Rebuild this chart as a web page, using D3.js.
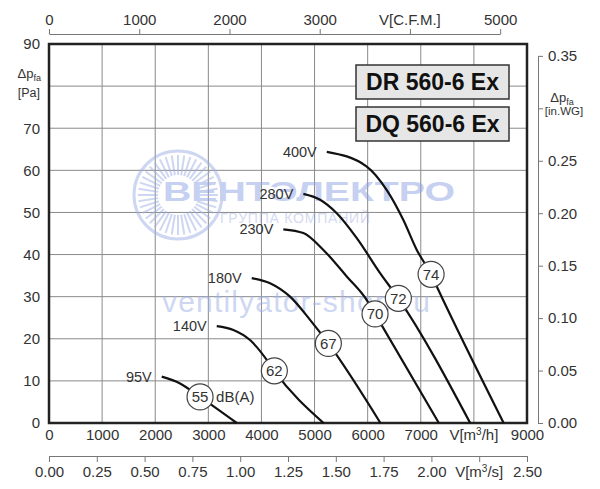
<!DOCTYPE html>
<html>
<head>
<meta charset="utf-8">
<script src="https://cdn.jsdelivr.net/npm/d3@7"></script>
<style>
  body { margin: 0; background: #fff; }
  text { font-family: "Liberation Sans", Arial, sans-serif; fill: #333; }
</style>
</head>
<body>
<svg id="chart" width="600" height="489"></svg>
<script>
// --- données ---
const flowTicks = [0, 1000, 2000, 3000, 4000, 5000, 6000, 7000, 8000, 9000];
const pressureTicks = [0, 10, 20, 30, 40, 50, 60, 70, 80, 90];
const cfmTicks = [0, 1000, 2000, 3000, 4000, 5000];
const m3sTicks = [0, 0.25, 0.5, 0.75, 1, 1.25, 1.5, 1.75, 2, 2.25, 2.5];
const inwgTicks = [0, 0.05, 0.1, 0.15, 0.2, 0.25, 0.3, 0.35];

const voltages = ["95V", "140V", "180V", "230V", "280V", "400V"];
const curve95 = [[2122, 11.0], [2467, 9.4], [2844, 6.2], [3535, 0]];
const curve140 = [[3158, 23.0], [3471, 22.1], [3785, 19.7], [4100, 15.0], [4243, 12.4], [5170, 0]];
const curve180 = [[3817, 34.4], [4162, 33.2], [4539, 30.0], [4915, 24.5], [5260, 18.9], [6240, 0]];
const curve230 = [[4412, 46.0], [4789, 45.1], [5166, 41.1], [5606, 34.8], [5983, 29.2], [6139, 25.9], [7340, 0]];
const curve280 = [[4789, 54.4], [5104, 53.0], [5418, 49.8], [5795, 43.9], [6234, 35.6], [6578, 29.6], [7930, 0]];
const curve400 = [[5230, 64.4], [5983, 60.9], [6360, 55.3], [6672, 48.2], [6925, 41.1], [7194, 35.3], [7301, 32.4], [8560, 0]];
const curves = [curve95, curve140, curve180, curve230, curve280, curve400];

const soundLevels = [55, 62, 67, 70, 72, 74];
const soundPoints = [[2844, 6.2], [4243, 12.4], [5260, 18.9], [6139, 25.9], [6578, 29.6], [7194, 35.3]];

const models = ["DR 560-6 Ex", "DQ 560-6 Ex"];

const CFM_TO_M3H = 1.699;
const INWG_TO_PA = 249.09;

const svg = d3.select("#chart");

const x = d3.scaleLinear().domain([0, 9000]).range([49, 527]);
const y = d3.scaleLinear().domain([0, 90]).range([423, 44]);

// grille
const grid = svg.append("g").attr("stroke", "#8a8a8a").attr("stroke-width", 1);
grid.selectAll(".vx").data(flowTicks.slice(1, -1)).enter().append("line")
    .attr("x1", d => x(d)).attr("x2", d => x(d))
    .attr("y1", y(90)).attr("y2", y(0));
grid.selectAll(".hy").data(pressureTicks.slice(1, -1)).enter().append("line")
    .attr("x1", x(0)).attr("x2", x(9000))
    .attr("y1", d => y(d)).attr("y2", d => y(d));

// filigrane
const wm = svg.append("g").attr("opacity", 0.5);
const logo = wm.append("g").attr("transform", "translate(178,195)");
logo.append("circle").attr("r", 44).attr("fill", "none").attr("stroke", "#9fb0e6").attr("stroke-width", 3);
logo.selectAll("line").data(d3.range(40)).enter().append("line")
    .attr("x1", d => 20 * Math.cos(d * Math.PI / 20)).attr("y1", d => 20 * Math.sin(d * Math.PI / 20))
    .attr("x2", d => 40 * Math.cos(d * Math.PI / 20)).attr("y2", d => 40 * Math.sin(d * Math.PI / 20))
    .attr("stroke", "#9fb0e6").attr("stroke-width", 2);
wm.append("text").attr("x", 163).attr("y", 201).attr("textLength", 292)
    .attr("lengthAdjust", "spacingAndGlyphs")
    .style("font-size", "28px").style("font-weight", "bold").style("fill", "#8ea2e4")
    .text("ВЕНТЭЛЕКТРО");
wm.append("text").attr("x", 220).attr("y", 223).attr("textLength", 150)
    .style("font-size", "14px").style("fill", "#a9b6e6")
    .text("ГРУППА КОМПАНИЙ");
wm.append("text").attr("x", 162).attr("y", 312).attr("textLength", 268)
    .style("font-size", "30px").style("fill", "#9fb0e6")
    .text("ventilyator-shop.ru");

// cadre
svg.append("rect")
    .attr("x", x(0)).attr("y", y(90))
    .attr("width", x(9000) - x(0)).attr("height", y(0) - y(90))
    .attr("fill", "none").attr("stroke", "#222").attr("stroke-width", 2.5);

// légendes des modèles
const mg = svg.append("g").selectAll("g").data(models).enter().append("g")
    .attr("transform", (d, i) => `translate(356,${65 + i * 42})`);
mg.append("rect").attr("width", 153).attr("height", 34)
    .attr("fill", "#e6e6e6").attr("stroke", "#333").attr("stroke-width", 1.5);
mg.append("text").attr("x", 76.5).attr("y", 25).attr("text-anchor", "middle")
    .style("font-size", "23px").style("font-weight", "bold").style("fill", "#111")
    .text(d => d);

// courbes
const line = d3.line().x(d => x(d[0])).y(d => y(d[1])).curve(d3.curveMonotoneX);
svg.append("g").selectAll("path").data(curves).enter().append("path")
    .attr("d", line).attr("fill", "none").attr("stroke", "#111").attr("stroke-width", 2.2);

svg.append("g").selectAll("text").data(curves).enter().append("text")
    .attr("x", d => x(d[0][0]) - 10).attr("y", d => y(d[0][1]) + 5)
    .attr("text-anchor", "end").style("font-size", "14.5px")
    .text((d, i) => voltages[i]);

// niveaux sonores
const sg = svg.append("g").selectAll("g").data(soundPoints).enter().append("g")
    .attr("transform", d => `translate(${x(d[0])},${y(d[1])})`);
sg.append("circle").attr("r", 13).attr("fill", "#fff").attr("stroke", "#444").attr("stroke-width", 1.2);
sg.append("text").attr("text-anchor", "middle").attr("y", 5.5).style("font-size", "15px")
    .text((d, i) => soundLevels[i]);
svg.append("text").attr("x", x(soundPoints[0][0]) + 16).attr("y", y(soundPoints[0][1]) + 5.5)
    .style("font-size", "15px").text("dB(A)");

// axes
function styleAxis(g, color) {
    g.attr("font-family", null).attr("font-size", null);
    g.selectAll("text").style("font-size", "15px");
    g.selectAll("line").attr("stroke", color);
    g.select(".domain").attr("stroke", color);
}

const xAxis = svg.append("g").attr("transform", `translate(0,${y(0)})`)
    .call(d3.axisBottom(x).tickValues(flowTicks).tickSize(0).tickPadding(6)
        .tickFormat(d => d === 8000 ? "" : d));
xAxis.select(".domain").remove();
styleAxis(xAxis, "#777");
svg.append("text").attr("x", x(8000)).attr("y", 440).attr("text-anchor", "middle")
    .style("font-size", "15px")
    .html('V[m<tspan dy="-5" style="font-size:10px">3</tspan><tspan dy="5">/h]</tspan>');

const yAxis = svg.append("g").attr("transform", `translate(${x(0)},0)`)
    .call(d3.axisLeft(y).tickValues(pressureTicks).tickSize(0).tickPadding(9)
        .tickFormat(d => d === 80 ? "" : d));
yAxis.select(".domain").remove();
styleAxis(yAxis, "#777");
svg.append("text").attr("x", 41).attr("y", 78).attr("text-anchor", "end").style("font-size", "13px")
    .html('Δp<tspan dy="3" style="font-size:9px">fa</tspan>');
svg.append("text").attr("x", 40).attr("y", 97).attr("text-anchor", "end").style("font-size", "12.5px")
    .text("[Pa]");

const cfm = d3.scaleLinear().domain([0, 5000]).range([x(0), x(5000 * CFM_TO_M3H)]);
const topAxis = svg.append("g").attr("transform", "translate(0,34)")
    .call(d3.axisTop(cfm).tickValues(cfmTicks).tickSize(5).tickSizeOuter(0).tickPadding(4)
        .tickFormat(d => d === 4000 ? "" : d));
styleAxis(topAxis, "#777");
svg.append("text").attr("x", cfm(4000)).attr("y", 25).attr("text-anchor", "middle")
    .style("font-size", "15px").text("V[C.F.M.]");

const m3s = d3.scaleLinear().domain([0, 2.5]).range([x(0), x(9000)]);
const sAxis = svg.append("g").attr("transform", "translate(0,456)")
    .call(d3.axisBottom(m3s).tickValues(m3sTicks).tickSize(6).tickSizeOuter(0).tickPadding(4)
        .tickFormat(d => d === 2.25 ? "" : d3.format(".2f")(d)));
styleAxis(sAxis, "#777");
svg.append("text").attr("x", m3s(2.25)).attr("y", 477).attr("text-anchor", "middle")
    .style("font-size", "15px")
    .html('V[m<tspan dy="-5" style="font-size:10px">3</tspan><tspan dy="5">/s]</tspan>');

const inwg = d3.scaleLinear().domain([0, 0.35]).range([y(0), y(0.35 * INWG_TO_PA)]);
const rAxis = svg.append("g").attr("transform", "translate(538,0)")
    .call(d3.axisRight(inwg).tickValues(inwgTicks).tickSize(5).tickSizeOuter(0).tickPadding(5)
        .tickFormat(d => Math.abs(d - 0.3) < 1e-9 ? "" : d3.format(".2f")(d)));
styleAxis(rAxis, "#777");
svg.append("text").attr("x", 562).attr("y", 102).attr("text-anchor", "middle").style("font-size", "13px")
    .html('Δp<tspan dy="3" style="font-size:9px">fa</tspan>');
svg.append("text").attr("x", 564).attr("y", 115).attr("text-anchor", "middle").style("font-size", "11.5px")
    .text("[in.WG]");
</script>
</body>
</html>
